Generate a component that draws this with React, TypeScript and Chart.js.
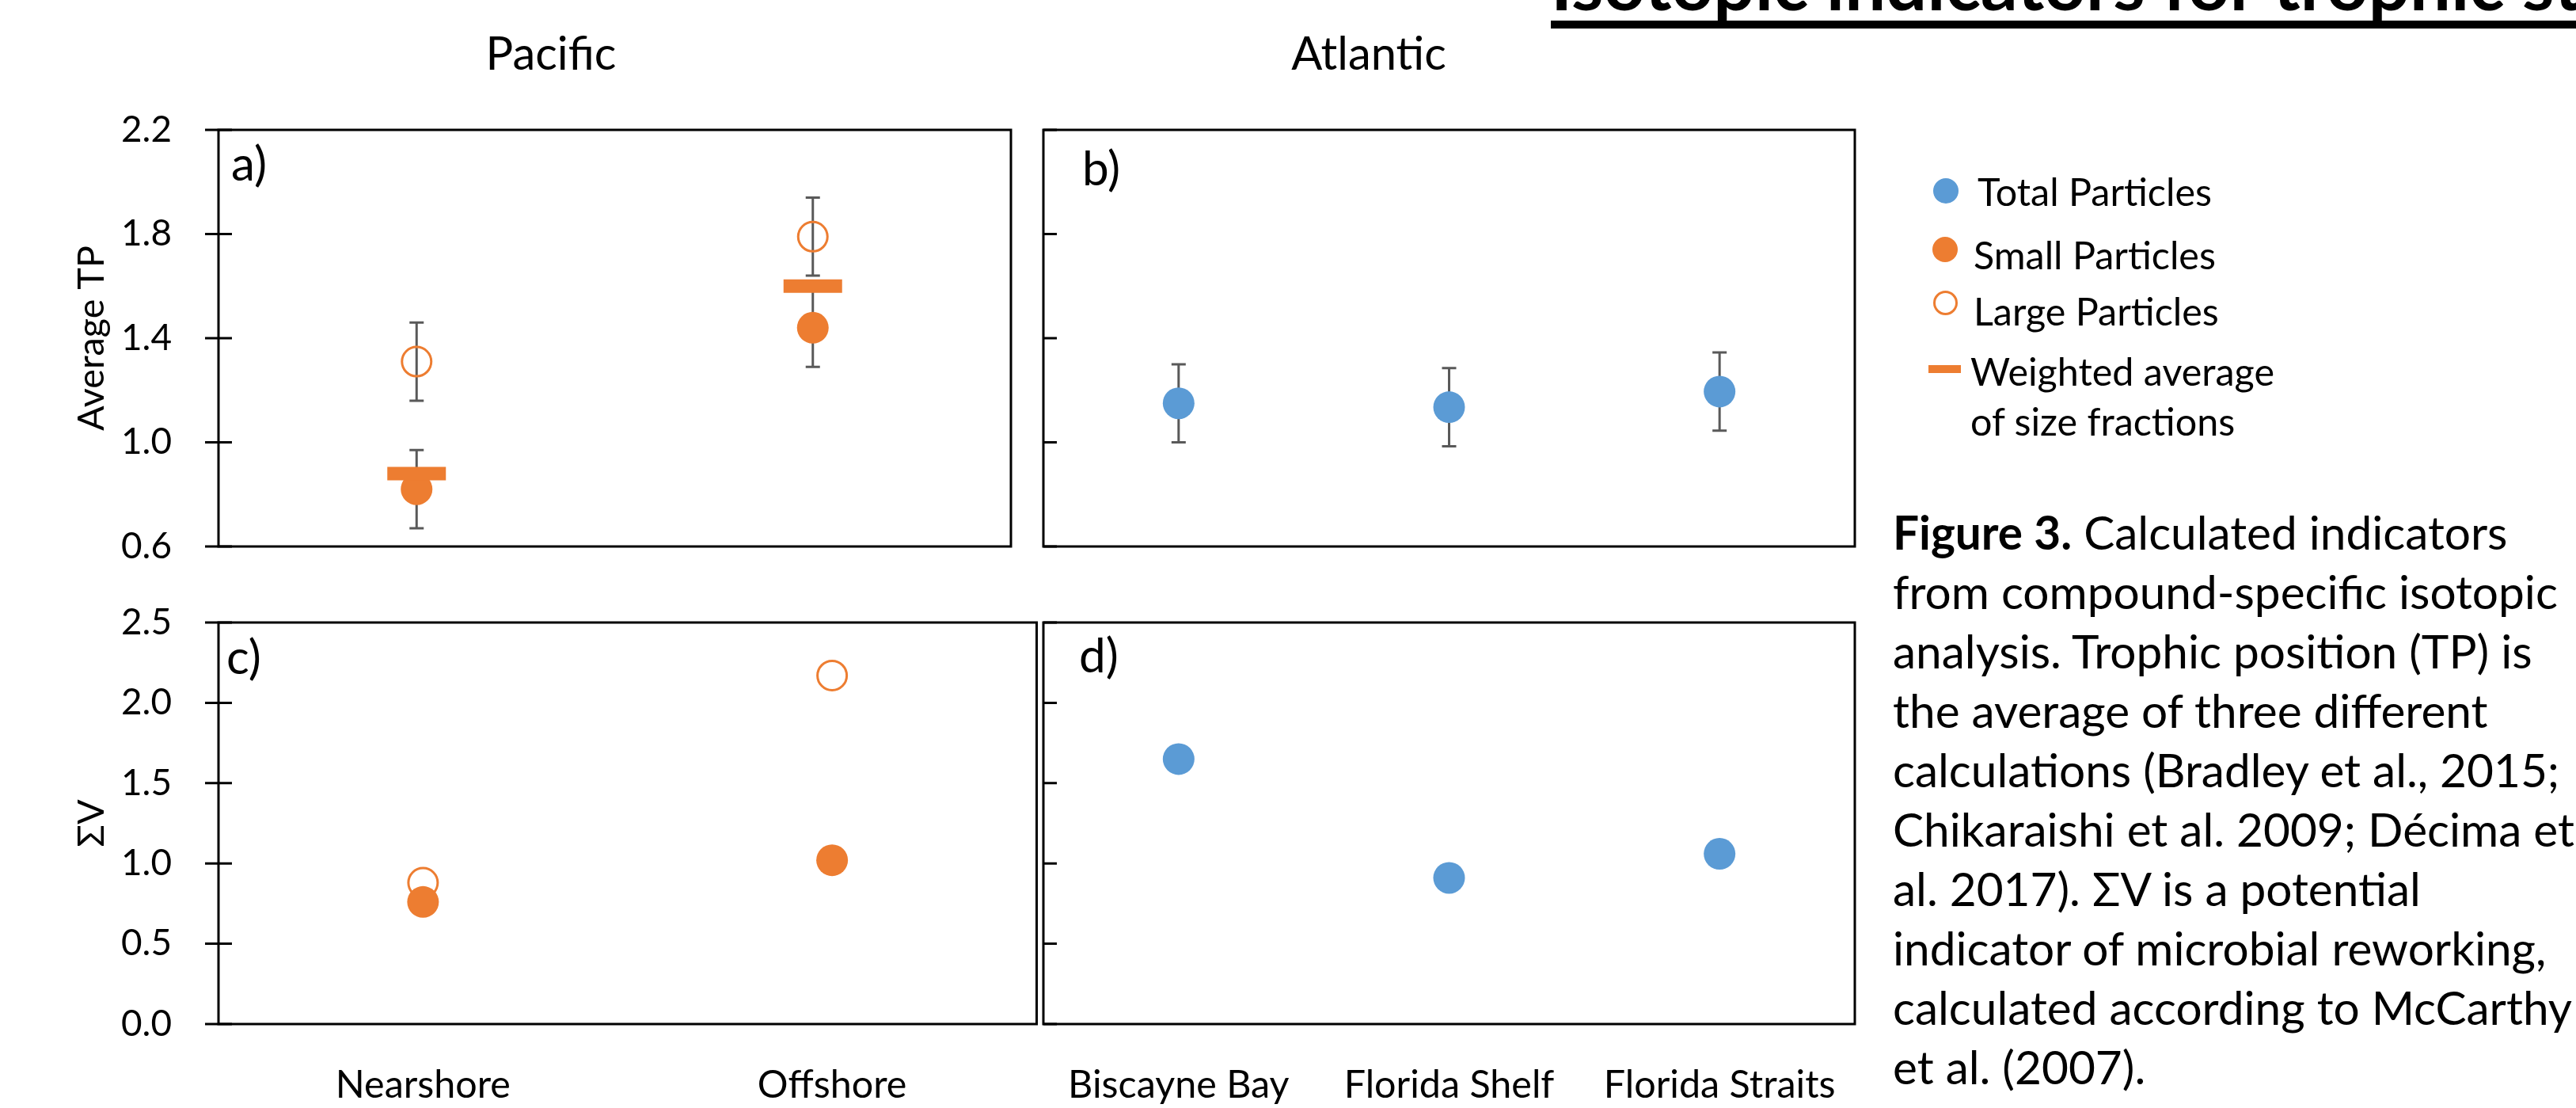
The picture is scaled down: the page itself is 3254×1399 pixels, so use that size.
import React, { useEffect, useRef } from "react";
import { Chart, registerables } from "chart.js";

Chart.register(...registerables);

// ---------- data ----------
const pacificSites = ["Nearshore", "Offshore"];
const atlanticSites = ["Biscayne Bay", "Florida Shelf", "Florida Straits"];

const tpSmall = [0.82, 1.44];
const tpSmallErr = [0.15, 0.15];
const tpLarge = [1.31, 1.79];
const tpLargeErr = [0.15, 0.15];
const tpWeighted = [0.88, 1.6];
const tpTotal = [1.15, 1.135, 1.195];
const tpTotalErr = [0.15, 0.15, 0.15];

const svSmall = [0.76, 1.02];
const svLarge = [0.88, 2.17];
const svTotal = [1.65, 0.91, 1.06];

const tpTicks = [0.6, 1.0, 1.4, 1.8, 2.2];
const svTicks = [0.0, 0.5, 1.0, 1.5, 2.0, 2.5];

const legendLabels = ["Total Particles", "Small Particles", "Large Particles", "Weighted average", "of size fractions"];
const captionLines = [
  "from compound-specific isotopic",
  "analysis. Trophic position (TP) is",
  "the average of three different",
  "calculations (Bradley et al., 2015;",
  "Chikaraishi et al. 2009; Décima et",
  "al. 2017). ΣV is a potential",
  "indicator of microbial reworking,",
  "calculated according to McCarthy",
  "et al. (2007).",
];

const ORANGE = "#ED7D31";
const BLUE = "#5B9BD5";
const ERR = "#595959";
const FONT = "Lato, 'Open Sans', sans-serif";

// font size so that `text` renders at `target` px wide
let measureCtx: CanvasRenderingContext2D | null = null;
function fit(text: string, target: number, bold = false): number {
  if (!measureCtx) measureCtx = document.createElement("canvas").getContext("2d");
  if (!measureCtx) return 46;
  measureCtx.font = `${bold ? "bold " : ""}100px ${FONT}`;
  const w = measureCtx.measureText(text).width;
  return w > 0 ? (100 * target) / w : 46;
}

const panelPlugin = {
  id: "panelDeco",
  beforeDatasetsDraw(chart: any) {
    const { ctx } = chart;
    const y = chart.scales.y;
    ctx.save();
    ctx.strokeStyle = ERR;
    ctx.lineWidth = 3;
    chart.data.datasets.forEach((ds: any, di: number) => {
      const errs = ds.errors;
      if (!errs) return;
      const meta = chart.getDatasetMeta(di);
      meta.data.forEach((pt: any, i: number) => {
        const v = ds.data[i];
        const e = errs[i];
        if (v == null || e == null) return;
        const yt = y.getPixelForValue(v + e);
        const yb = y.getPixelForValue(v - e);
        ctx.beginPath();
        ctx.moveTo(pt.x, yt);
        ctx.lineTo(pt.x, yb);
        ctx.moveTo(pt.x - 9, yt);
        ctx.lineTo(pt.x + 9, yt);
        ctx.moveTo(pt.x - 9, yb);
        ctx.lineTo(pt.x + 9, yb);
        ctx.stroke();
      });
    });
    ctx.restore();
  },
  afterDraw(chart: any, _a: any, opts: any) {
    const { ctx, chartArea: a } = chart;
    const y = chart.scales.y;
    ctx.save();
    ctx.strokeStyle = "#000";
    ctx.lineWidth = 3;
    ctx.strokeRect(a.left, a.top, a.right - a.left, a.bottom - a.top);
    ctx.beginPath();
    y.ticks.forEach((t: any) => {
      const py = y.getPixelForValue(t.value);
      ctx.moveTo(a.left - (opts.outLen || 0), py);
      ctx.lineTo(a.left + (opts.inLen || 0), py);
    });
    ctx.stroke();
    ctx.restore();
  },
};

type Spec = {
  left: number;
  top: number;
  w: number;
  h: number;
  padTop: number;
  padBottom: number;
  yWidth: number;
  xHeight: number;
  labels: string[];
  yMin: number;
  yMax: number;
  yTicks: number[];
  showY: boolean;
  yTitle?: string;
  showX: boolean;
  outLen: number;
  inLen: number;
  datasets: any[];
};

function smallDs(data: number[], errors?: number[]) {
  return {
    label: "Small Particles",
    data,
    errors,
    showLine: false,
    order: 1,
    pointStyle: "circle",
    pointRadius: 20,
    pointHoverRadius: 20,
    pointBackgroundColor: ORANGE,
    pointBorderColor: ORANGE,
    pointBorderWidth: 0,
  };
}
function largeDs(data: number[], errors?: number[]) {
  return {
    label: "Large Particles",
    data,
    errors,
    showLine: false,
    order: 2,
    pointStyle: "circle",
    pointRadius: 18.5,
    pointHoverRadius: 18.5,
    pointBackgroundColor: "rgba(255,255,255,0)",
    pointBorderColor: ORANGE,
    pointBorderWidth: 3,
  };
}
function weightedDs(data: number[]) {
  return {
    label: "Weighted average of size fractions",
    data,
    showLine: false,
    order: 0,
    pointStyle: "line",
    pointRadius: 37,
    pointHoverRadius: 37,
    pointBorderColor: ORANGE,
    pointBorderWidth: 17,
  };
}
function totalDs(data: number[], errors?: number[]) {
  return {
    label: "Total Particles",
    data,
    errors,
    showLine: false,
    order: 0,
    pointStyle: "circle",
    pointRadius: 20,
    pointHoverRadius: 20,
    pointBackgroundColor: BLUE,
    pointBorderColor: BLUE,
    pointBorderWidth: 0,
  };
}

// chart areas: top row y 164..690, bottom row y 786..1293; left col x 276..1311, right col x 1311..2343
const PAD = 90;
const specs: Spec[] = [
  {
    left: 60, top: 164 - PAD, w: 1271, h: 690 + PAD - (164 - PAD), padTop: PAD, padBottom: PAD, yWidth: 216, xHeight: 0,
    labels: pacificSites, yMin: 0.6, yMax: 2.2, yTicks: tpTicks, showY: true, yTitle: "Average TP",
    showX: false, outLen: 17, inLen: 17,
    datasets: [weightedDs(tpWeighted), smallDs(tpSmall, tpSmallErr), largeDs(tpLarge, tpLargeErr)],
  },
  {
    left: 1298, top: 164 - PAD, w: 1065, h: 690 + PAD - (164 - PAD), padTop: PAD, padBottom: PAD, yWidth: 13, xHeight: 0,
    labels: atlanticSites, yMin: 0.6, yMax: 2.2, yTicks: tpTicks, showY: false,
    showX: false, outLen: 0, inLen: 17,
    datasets: [totalDs(tpTotal, tpTotalErr)],
  },
  {
    left: 60, top: 786 - PAD, w: 1271, h: 1293 + 110 - (786 - PAD), padTop: PAD, padBottom: 0, yWidth: 216, xHeight: 110,
    labels: pacificSites, yMin: 0, yMax: 2.5, yTicks: svTicks, showY: true, yTitle: "ΣV",
    showX: true, outLen: 17, inLen: 17,
    datasets: [smallDs(svSmall), largeDs(svLarge)],
  },
  {
    left: 1298, top: 786 - PAD, w: 1065, h: 1293 + 110 - (786 - PAD), padTop: PAD, padBottom: 0, yWidth: 13, xHeight: 110,
    labels: atlanticSites, yMin: 0, yMax: 2.5, yTicks: svTicks, showY: false,
    showX: true, outLen: 0, inLen: 17,
    datasets: [totalDs(svTotal)],
  },
];

function Panel({ spec }: { spec: Spec }) {
  const ref = useRef<HTMLCanvasElement>(null);
  useEffect(() => {
    if (!ref.current) return;
    const s = spec;
    const tickSize = fit("2.2", 64);
    const catSize = (fit("Nearshore", 223) + fit("Florida Straits", 294) + fit("Biscayne Bay", 276)) / 3;
    const titleSize = fit("Average TP", 234);
    const chart = new Chart(ref.current, {
      type: "line",
      data: { labels: s.labels, datasets: s.datasets },
      plugins: [panelPlugin],
      options: {
        responsive: false,
        animation: false,
        devicePixelRatio: 1,
        layout: { padding: { top: s.padTop, right: 20, bottom: s.padBottom, left: 0 } },
        plugins: {
          legend: { display: false },
          tooltip: { enabled: false },
          panelDeco: { outLen: s.outLen, inLen: s.inLen },
        } as any,
        scales: {
          x: {
            type: "category",
            offset: true,
            grid: { display: false },
            border: { display: false },
            ticks: {
              display: s.showX,
              color: "#000",
              font: { family: FONT, size: catSize },
              padding: 69 - 0.6 * catSize,
              maxRotation: 0,
              autoSkip: false,
            },
            afterFit: (sc: any) => {
              sc.height = s.xHeight;
            },
          },
          y: {
            type: "linear",
            min: s.yMin,
            max: s.yMax,
            grid: { display: false },
            border: { display: false },
            afterBuildTicks: (sc: any) => {
              sc.ticks = s.yTicks.map((v) => ({ value: v }));
            },
            ticks: {
              display: s.showY,
              color: "#000",
              font: { family: FONT, size: tickSize },
              padding: 51,
              callback: (v: any) => Number(v).toFixed(1),
            },
            title: {
              display: !!s.yTitle,
              text: s.yTitle || "",
              color: "#000",
              font: { family: FONT, size: titleSize },
              padding: { top: 56 - 0.6 * titleSize, bottom: 0 },
            },
            afterFit: (sc: any) => {
              sc.width = s.yWidth;
            },
          },
        },
      } as any,
    });
    return () => chart.destroy();
  }, [spec]);
  return (
    <canvas
      ref={ref}
      width={spec.w}
      height={spec.h}
      style={{ position: "absolute", left: spec.left, top: spec.top, width: spec.w, height: spec.h }}
    />
  );
}

// text helper: position by baseline (Lato: baseline ~ top + 0.887*size with line-height 1)
function Txt(props: {
  x: number;
  base: number;
  size: number;
  text: React.ReactNode;
  center?: boolean;
  bold?: boolean;
}) {
  const { x, base, size, text, center, bold } = props;
  return (
    <div
      style={{
        position: "absolute",
        left: x,
        top: base - 0.887 * size,
        fontSize: size,
        lineHeight: 1,
        fontFamily: FONT,
        fontWeight: bold ? 700 : 400,
        whiteSpace: "nowrap",
        color: "#000",
        transform: center ? "translateX(-50%)" : undefined,
      }}
    >
      {text}
    </div>
  );
}

export default function App() {
  useEffect(() => {
    document.body.style.margin = "0";
  }, []);
  const capBase = 694;
  const capStep = 75;
  const capSize = fit(captionLines[0], 840);
  const legSize = fit(legendLabels[0], 296);
  const headSize = (fit("Pacific", 163) + fit("Atlantic", 198)) / 2;
  const tagSize = fit("a)", 45);
  const titleSize = fit("Isotopic indicators for trophic ", 1229, true);
  return (
    <div
      style={{
        position: "absolute",
        left: 0,
        top: 0,
        width: 3254,
        height: 1399,
        overflow: "hidden",
        background: "#fff",
      }}
    >
      {/* cut-off slide title */}
      <Txt x={1959} base={14} size={titleSize} bold text="Isotopic indicators for trophic status" />
      <div style={{ position: "absolute", left: 1959, top: 26, width: 1400, height: 10, background: "#000" }} />

      <Txt x={696} base={88} size={headSize} center text="Pacific" />
      <Txt x={1729} base={88} size={headSize} center text="Atlantic" />

      {specs.map((s, i) => (
        <Panel key={i} spec={s} />
      ))}

      <Txt x={292} base={228} size={tagSize} text="a)" />
      <Txt x={1367} base={234} size={tagSize} text="b)" />
      <Txt x={286} base={851} size={tagSize} text="c)" />
      <Txt x={1363} base={849} size={tagSize} text="d)" />

      {/* legend */}
      <div style={{ position: "absolute", left: 2442, top: 225, width: 32, height: 32, borderRadius: "50%", background: BLUE }} />
      <Txt x={2498} base={260} size={legSize} text={legendLabels[0]} />
      <div style={{ position: "absolute", left: 2441, top: 299, width: 32, height: 32, borderRadius: "50%", background: ORANGE }} />
      <Txt x={2493} base={340} size={legSize} text={legendLabels[1]} />
      <div
        style={{
          position: "absolute",
          left: 2442,
          top: 367,
          width: 31,
          height: 31,
          boxSizing: "border-box",
          borderRadius: "50%",
          border: `3px solid ${ORANGE}`,
        }}
      />
      <Txt x={2493} base={411} size={legSize} text={legendLabels[2]} />
      <div style={{ position: "absolute", left: 2436, top: 461, width: 41, height: 10, background: ORANGE }} />
      <Txt x={2489} base={487} size={legSize} text={legendLabels[3]} />
      <Txt x={2489} base={550} size={legSize} text={legendLabels[4]} />

      {/* caption */}
      <Txt
        x={2391}
        base={capBase}
        size={capSize}
        text={
          <>
            <b>Figure 3.</b> Calculated indicators
          </>
        }
      />
      {captionLines.map((l, i) => (
        <Txt key={i} x={2391} base={capBase + capStep * (i + 1)} size={capSize} text={l} />
      ))}
    </div>
  );
}
